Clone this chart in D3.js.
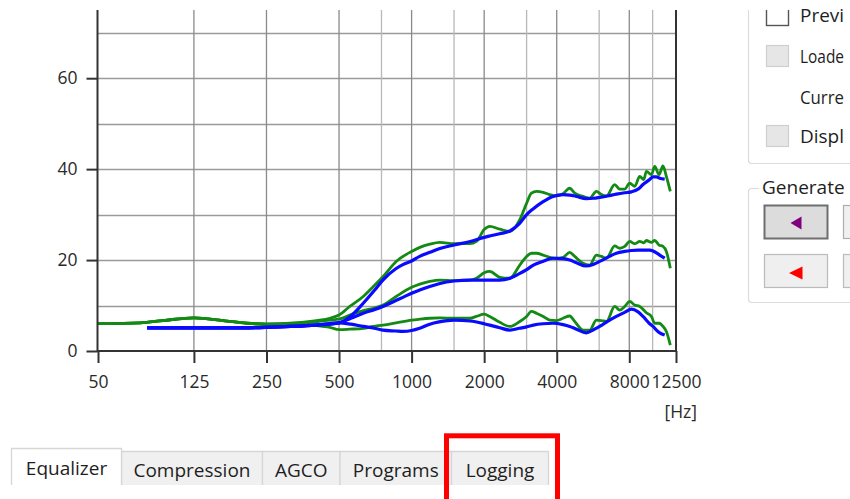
<!DOCTYPE html>
<html><head><meta charset="utf-8">
<script src="https://cdn.jsdelivr.net/npm/d3@7"></script>
<style>
html,body{margin:0;padding:0;background:#fff;overflow:hidden}
svg{display:block;font-family:"Open Sans",sans-serif}
</style></head><body>
<svg id="c" width="850" height="499"></svg>
<script>
// ---------- data ----------
const greenFreqs = [50,75,93,125,165,207,250,313,403,458,
  500,554,630,694,762,863,1000,1082,1190,1310,
  1500,1744,1858,2000,2110,2322,2555,2811,3000,3142,
  3297,3512,3743,3990,4250,4528,4751,5144,5483,5843,
  6128,6431,6960,7300,7658,8033,8427,8840,9183,9420,
  9884,10200,10630,11040,11400,11840];
const greenHigh = [6.0,6.2,6.7,7.3,6.7,6.1,5.9,6.1,6.7,7.2,
  7.9,9.8,12.0,14.2,16.4,19.7,21.9,22.8,23.5,23.9,
  23.6,23.6,24.1,26.7,27.4,26.8,26.3,28.9,32.5,34.7,
  35.1,34.9,34.4,34.1,34.6,35.8,34.7,34.0,33.6,35.1,
  34.4,34.1,36.6,35.6,35.6,36.9,36.2,38.4,37.7,39.5,
  38.8,40.6,38.8,40.7,38.4,35.1];
const greenMid = [6.0,6.2,6.7,7.3,6.7,6.1,5.9,6.0,6.4,6.8,
  7.0,7.9,8.9,9.4,10.1,12.0,14.0,14.7,15.3,15.6,
  15.5,15.6,16.0,17.2,17.5,16.2,16.0,18.9,20.8,21.5,
  21.5,21.1,20.6,20.4,20.6,21.7,20.8,19.3,18.9,21.1,
  20.8,20.4,23.1,22.6,23.0,24.1,23.6,24.1,23.8,24.3,
  23.9,24.3,23.3,23.0,21.9,18.2];
const greenLow = [6.0,6.2,6.7,7.3,6.7,6.1,5.9,5.9,5.6,5.2,
  4.7,4.8,5.0,5.4,5.7,6.2,6.8,7.0,7.2,7.3,
  7.2,7.2,7.6,8.1,7.6,6.3,5.4,6.5,7.6,8.7,
  8.3,7.6,6.8,6.7,7.2,7.7,6.5,4.6,4.6,6.8,
  6.7,6.5,9.8,9.0,9.8,10.9,10.1,9.8,9.0,8.4,
  7.6,6.1,6.1,5.4,4.3,1.3];

const blueFreqs = [80,125,200,250,315,400,500,560,630,700,
  760,860,920,1000,1080,1190,1300,1500,1750,2000,
  2110,2320,2560,2800,3000,3200,3500,3860,4250,4530,
  4830,5300,5700,6030,6500,7070,7650,8160,8700,9120,
  9720,10040,10370,10700,11220];
const blueHigh = [5.1,5.1,5.1,5.2,5.4,5.7,6.2,7.7,10.5,13.3,
  15.6,18.1,19.0,19.8,20.8,21.7,22.5,23.3,24.1,25.0,
  25.3,25.8,26.4,28.0,30.0,31.3,32.8,34.0,34.4,34.3,
  34.0,33.5,33.6,33.8,34.1,34.5,34.8,35.0,35.6,36.6,
  37.7,38.3,38.3,38.0,37.8];
const blueMid = [5.1,5.1,5.1,5.2,5.4,5.7,6.2,7.2,8.3,9.1,
  9.8,11.1,11.8,12.7,13.4,14.2,14.8,15.4,15.6,15.6,
  15.6,15.6,16.0,17.0,17.9,18.9,19.7,20.4,20.3,20.0,
  19.4,18.7,19.1,19.7,20.6,21.5,21.9,22.1,22.2,22.2,
  22.2,22.0,21.6,21.1,20.4];
const blueLow = [5.1,5.1,5.1,5.2,5.4,5.7,6.2,5.9,5.4,5.0,
  4.6,4.4,4.3,4.5,5.0,5.9,6.4,6.8,6.6,6.0,
  5.7,5.1,4.6,5.0,5.3,5.7,6.0,6.1,5.8,5.4,
  4.8,4.0,4.7,5.4,6.5,7.6,8.5,9.2,8.6,7.6,
  6.0,5.4,4.6,4.0,3.5];

const xTickValues = [50,125,250,500,1000,2000,4000,8000,12500];
const xGridMajor = [125,250,500,1000,2000,4000,8000];
const xGridMinor = [750,1500,3000,6000,10000];
const yTickValues = [0,20,40,60];
const yGridValues = [10,20,30,40,50,60,70];
const xUnitLabel = "[Hz]";
const tabLabels = ["Equalizer","Compression","AGCO","Programs","Logging"];
const panelLabels = ["Previ","Loade","Curre","Displ"];
const groupLabel = "Generate";

// ---------- drawing ----------
const svg = d3.select("#c");
const x = d3.scaleLog().domain([50,12500]).range([98,676]);
const y = d3.scaleLinear().domain([0,75]).range([351,10]);
const pTop = 10, pBottom = 351, pLeft = 97.5, pRight = 676;

const grid = svg.append("g");
grid.selectAll("line.h").data(yGridValues).join("line")
  .attr("x1", pLeft).attr("x2", pRight)
  .attr("y1", d => Math.round(y(d)) + 0.5).attr("y2", d => Math.round(y(d)) + 0.5)
  .attr("stroke", "#9a9a9a").attr("stroke-width", 1.3);
grid.selectAll("line.vmin").data(xGridMinor).join("line")
  .attr("x1", d => x(d)).attr("x2", d => x(d))
  .attr("y1", pTop).attr("y2", pBottom)
  .attr("stroke", "#b8b8b8").attr("stroke-width", 1.3);
grid.selectAll("line.vmaj").data(xGridMajor).join("line")
  .attr("x1", d => x(d)).attr("x2", d => x(d))
  .attr("y1", pTop).attr("y2", pBottom)
  .attr("stroke", "#8a8a8a").attr("stroke-width", 1.3);

// curves
const lineG = d3.line().x(d => x(d[0])).y(d => y(d[1])).curve(d3.curveMonotoneX);
const greens = [greenHigh, greenMid, greenLow];
const blues = [blueHigh, blueMid, blueLow];
const curves = svg.append("g");
greens.forEach(s => {
  curves.append("path").datum(greenFreqs.map((f,i) => [f, s[i]]))
    .attr("d", lineG).attr("fill","none").attr("stroke","#138a13")
    .attr("stroke-width", 2.8).attr("stroke-linejoin","round");
});
blues.forEach(s => {
  curves.append("path").datum(blueFreqs.map((f,i) => [f, s[i]]))
    .attr("d", lineG).attr("fill","none").attr("stroke","#0a0aff")
    .attr("stroke-width", 3.2).attr("stroke-linejoin","round");
});

// axes frame
const frame = svg.append("g").attr("stroke","#333").attr("stroke-width",2);
frame.append("line").attr("x1",pLeft).attr("x2",pLeft).attr("y1",pTop).attr("y2",pBottom+1);
frame.append("line").attr("x1",pRight).attr("x2",pRight).attr("y1",pTop).attr("y2",pBottom+1);
frame.append("line").attr("x1",pLeft).attr("x2",pRight).attr("y1",pBottom).attr("y2",pBottom);

const fontAxis = "17.5px";
const gx = svg.append("g").attr("transform",`translate(0,${pBottom})`)
  .call(d3.axisBottom(x).tickValues(xTickValues).tickFormat(d3.format("d"))
    .tickSize(12).tickPadding(13).tickSizeOuter(0));
gx.select(".domain").remove();
gx.selectAll(".tick line").attr("stroke","#333").attr("stroke-width",2);
gx.selectAll(".tick text").attr("fill","#2a2a2a").style("font-size",fontAxis)
  .style("font-family","'Open Sans',sans-serif");

const gy = svg.append("g").attr("transform",`translate(${pLeft},0)`)
  .call(d3.axisLeft(y).tickValues(yTickValues).tickSize(11).tickPadding(9).tickSizeOuter(0));
gy.select(".domain").remove();
gy.selectAll(".tick line").attr("stroke","#333").attr("stroke-width",2);
gy.selectAll(".tick text").attr("fill","#2a2a2a").style("font-size",fontAxis)
  .style("font-family","'Open Sans',sans-serif");

svg.append("text").attr("x",697).attr("y",418).attr("text-anchor","end")
  .attr("fill","#2a2a2a").style("font-size",fontAxis).text(xUnitLabel);

// ---------- right-hand panel ----------
const panelClip = svg.append("clipPath").attr("id","pc");
panelClip.append("rect").attr("x",0).attr("y",10).attr("width",850).attr("height",489);
const panel = svg.append("g").attr("clip-path","url(#pc)");
const panelText = svg.append("g");
const fontUI = "19px";

panel.append("path").attr("d","M748.5,0 V160.5 Q748.5,163.5 751.5,163.5 H851")
  .attr("fill","none").attr("stroke","#dcdcdc").attr("stroke-width",1.2);
const rowsY = [4,45,null,125];
const textY = [22,63,104,143];
panelLabels.forEach((t,i) => {
  if (rowsY[i] !== null) {
    panel.append("rect").attr("x",766.5).attr("y",rowsY[i]+0.5).attr("width",22).attr("height",21)
      .attr("fill", i===0 ? "#fff" : "#e6e6e6")
      .attr("stroke", i===0 ? "#555" : "#cfcfcf").attr("stroke-width", i===0 ? 1.4 : 1.2);
  }
  const tx = panelText.append("text").attr("x",800).attr("y",textY[i]).attr("fill","#1e1e1e")
    .style("font-size", i===1 ? "18px" : fontUI).text(t);
  const w = tx.node().getComputedTextLength();
  if (w > 44) tx.attr("textLength", 44).attr("lengthAdjust","spacingAndGlyphs");
});

panel.append("path").attr("d","M759,188.5 H751.5 Q748.5,188.5 748.5,191.5 V299.5 Q748.5,302.5 751.5,302.5 H851")
  .attr("fill","none").attr("stroke","#dcdcdc").attr("stroke-width",1.2);
panelText.append("text").attr("x",762).attr("y",194).attr("fill","#1e1e1e")
  .style("font-size",fontUI).text(groupLabel);

panel.append("rect").attr("x",764.5).attr("y",205.5).attr("width",63).attr("height",33)
  .attr("fill","#dcdcdc").attr("stroke","#6e6e6e").attr("stroke-width",2);
panel.append("rect").attr("x",843.5).attr("y",205.5).attr("width",40).attr("height",33)
  .attr("fill","#f0f0f0").attr("stroke","#adadad").attr("stroke-width",1.2);
panel.append("rect").attr("x",764.5).attr("y",254.5).attr("width",63).attr("height",33)
  .attr("fill","#efefef").attr("stroke","#bbbbbb").attr("stroke-width",1.2);
panel.append("rect").attr("x",843.5).attr("y",254.5).attr("width",40).attr("height",33)
  .attr("fill","#f0f0f0").attr("stroke","#bbbbbb").attr("stroke-width",1.2);
panel.append("path").attr("d","M790.5,223 L801.5,216.5 L801.5,229.5 Z").attr("fill","#800080");
panel.append("path").attr("d","M789,273 L802.5,266.5 L802.5,279.5 Z").attr("fill","#ff0000");

// ---------- tabs ----------
const tabEdges = [11.5,121.5,262.5,340,451.5,548.5];
const tabs = svg.append("g");
tabLabels.forEach((t,i) => {
  if (i === 0) return;
  tabs.append("path")
    .attr("d",`M${tabEdges[i]},485 V451.5 H${tabEdges[i+1]} V485`)
    .attr("fill","#f0f0f0").attr("stroke","#d6d6d6").attr("stroke-width",1.3);
});
tabs.append("path").attr("d",`M${tabEdges[0]},485 V448.5 H${tabEdges[1]} V485`)
  .attr("fill","#fff").attr("stroke","#d6d6d6").attr("stroke-width",1.3);
tabLabels.forEach((t,i) => {
  tabs.append("text").attr("x",(tabEdges[i]+tabEdges[i+1])/2).attr("y", i===0 ? 475 : 476.5)
    .attr("text-anchor","middle").attr("fill","#1e1e1e").style("font-size",fontUI).text(t);
});

// highlight box
svg.append("rect").attr("x",446.5).attr("y",435.8).attr("width",111).attr("height",100)
  .attr("fill","none").attr("stroke","#ff0000").attr("stroke-width",5);
</script>
</body></html>
